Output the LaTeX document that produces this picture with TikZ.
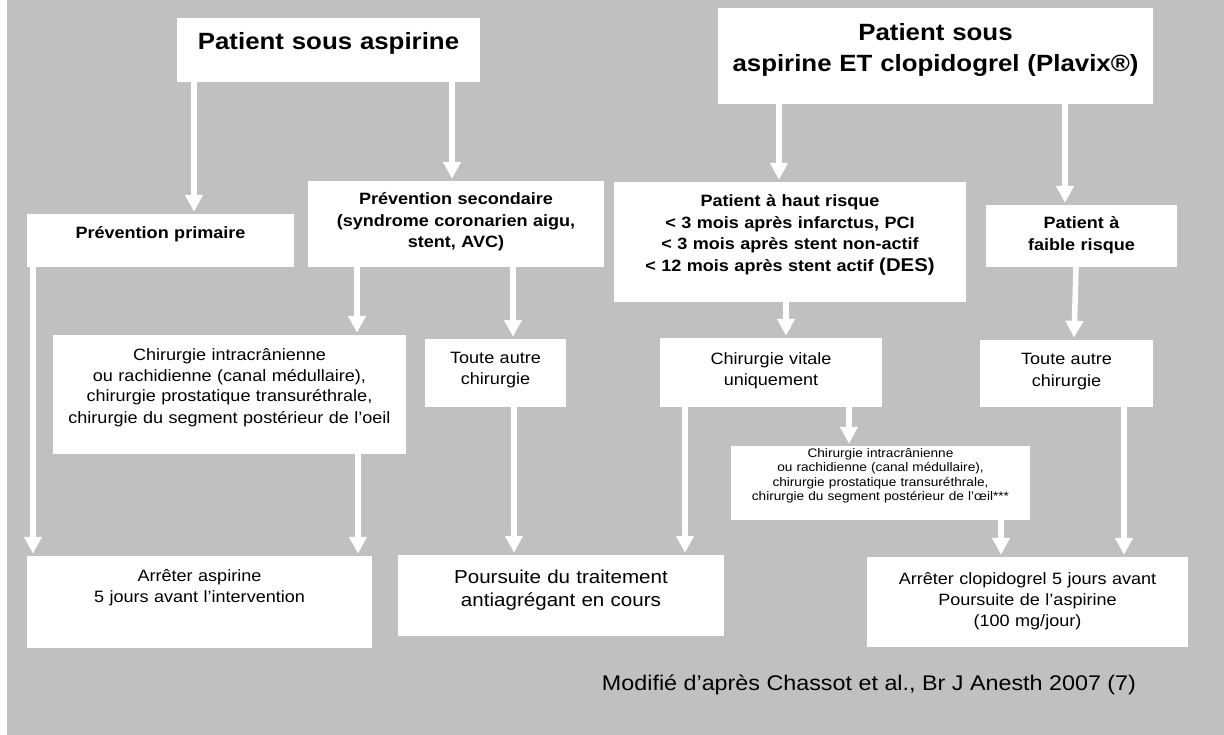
\documentclass[tikz,border=0pt]{standalone}
\usepackage{fontspec}
\setmainfont{Liberation Sans}[FakeStretch=1.1]
\usetikzlibrary{arrows.meta}
\definecolor{bggray}{HTML}{C0C0C0}
\tikzstyle{box} = [rectangle, fill=white, inner sep=0pt, align=center]
\tikzstyle{titlebox} = [box, font=\fontsize{23.5}{31.5}\selectfont\bfseries]
\tikzstyle{boldbox} = [box, font=\fontsize{16.4}{21.5}\selectfont\bfseries]
\tikzstyle{plainbox} = [box, font=\fontsize{16.4}{21}\selectfont]
\tikzstyle{bigbox} = [box, font=\fontsize{18.7}{23}\selectfont]
\tikzstyle{smallbox} = [box, font=\fontsize{12.4}{14.3}\selectfont]
\tikzstyle{arrow} = [white, line width=5.5pt, -{Triangle[length=17pt,width=17pt]}, shorten >=2pt]

\begin{document}
\begin{tikzpicture}[x=1pt, y=-1pt]
    \useasboundingbox (0,0) rectangle (1224,735);
    \fill [bggray] (7,0) rectangle (1224,735);
    % aspirine seule
    \node (aspirine) [titlebox, text width=303pt, text height=32pt, text depth=32pt] at (328.5,50) {Patient sous aspirine};
    \node (primaire) [boldbox, text width=267pt, text height=25pt, text depth=28pt] at (160.5,240.5) {Prévention primaire};
    \node (secondaire) [boldbox, text width=296pt, text height=24pt, text depth=62pt] at (456,224) {Prévention secondaire\\(syndrome coronarien aigu,\\stent, AVC)};
    \node (neuro) [plainbox, text width=353pt, text height=25pt, text depth=94pt] at (229.5,394.5) {Chirurgie intracrânienne\\ou rachidienne (canal médullaire),\\chirurgie prostatique transuréthrale,\\chirurgie du segment postérieur de l’oeil};
    \node (autreA) [plainbox, text width=141pt, text height=24pt, text depth=44pt] at (495.5,373) {Toute autre\\chirurgie};
    \node (stopasp) [plainbox, text width=345pt, text height=25pt, text depth=67pt] at (199.5,602) {Arrêter aspirine\\5 jours avant l’intervention};
    \node (poursuite) [bigbox, text width=326pt, text height=28.5pt, text depth=52.5pt] at (561,595.5) {Poursuite du traitement\\antiagrégant en cours};
    % aspirine et clopidogrel
    \node (plavix) [titlebox, text width=435pt, text height=32.5pt, text depth=63.5pt] at (935.5,56) {Patient sous\\aspirine ET clopidogrel (Plavix®)};
    \node (hautrisque) [boldbox, text width=352pt, text height=25pt, text depth=95pt] at (790,242) {Patient à haut risque\\< 3 mois après infarctus, PCI\\< 3 mois après stent non-actif\\< 12 mois après stent actif {\fontsize{18.5}{21.5}\selectfont(DES)}};
    \node (faiblerisque) [boldbox, text width=191pt, text height=24pt, text depth=38pt] at (1081.5,236) {Patient à\\faible risque};
    \node (vitale) [plainbox, text width=222pt, text height=26pt, text depth=43pt] at (771,372.5) {Chirurgie vitale\\uniquement};
    \node (autreB) [plainbox, text width=173pt, text height=25pt, text depth=42pt] at (1066.5,373.5) {Toute autre\\chirurgie};
    \node (neuroB) [smallbox, text width=299pt, text height=11.5pt, text depth=62.5pt] at (880.5,483) {Chirurgie intracrânienne\\ou rachidienne (canal médullaire),\\chirurgie prostatique transuréthrale,\\chirurgie du segment postérieur de l’œil***};
    \node (stopclop) [plainbox, text width=321pt, text height=27pt, text depth=63pt] at (1027.5,602) {Arrêter clopidogrel 5 jours avant\\Poursuite de l’aspirine\\(100 mg/jour)};
    \node (source) [anchor=base, font=\fontsize{21.2}{25}\selectfont] at (869,690) {Modifié d’après Chassot et al., Br J Anesth 2007 (7)};
    % fleches
    \draw [arrow] (aspirine.south -| 194,0) -- (primaire.north -| 194,0);
    \draw [arrow] (aspirine.south -| 452,0) -- (secondaire.north -| 452,0);
    \draw [arrow] (secondaire.south -| 357,0) -- (neuro.north -| 357,0);
    \draw [arrow] (secondaire.south -| 513,0) -- (autreA.north -| 513,0);
    \draw [arrow] (primaire.south -| 33,0) -- (stopasp.north -| 33,0);
    \draw [arrow] (neuro.south -| 358,0) -- (stopasp.north -| 358,0);
    \draw [arrow] (autreA.south -| 514,0) -- (poursuite.north -| 514,0);
    \draw [arrow] (plavix.south -| 779,0) -- (hautrisque.north -| 779,0);
    \draw [arrow] (plavix.south -| 1065,0) -- (faiblerisque.north -| 1065,0);
    \draw [arrow] (hautrisque.south -| 786,0) -- (vitale.north -| 786,0);
    \draw [arrow] (faiblerisque.south -| 1076,0) -- (autreB.north -| 1074,0);
    \draw [arrow] (vitale.south -| 685,0) -- (poursuite.north -| 685,0);
    \draw [arrow] (vitale.south -| 849,0) -- (neuroB.north -| 849,0);
    \draw [arrow] (neuroB.south -| 1001,0) -- (stopclop.north -| 1001,0);
    \draw [arrow] (autreB.south -| 1124,0) -- (stopclop.north -| 1124,0);
\end{tikzpicture}
\end{document}
